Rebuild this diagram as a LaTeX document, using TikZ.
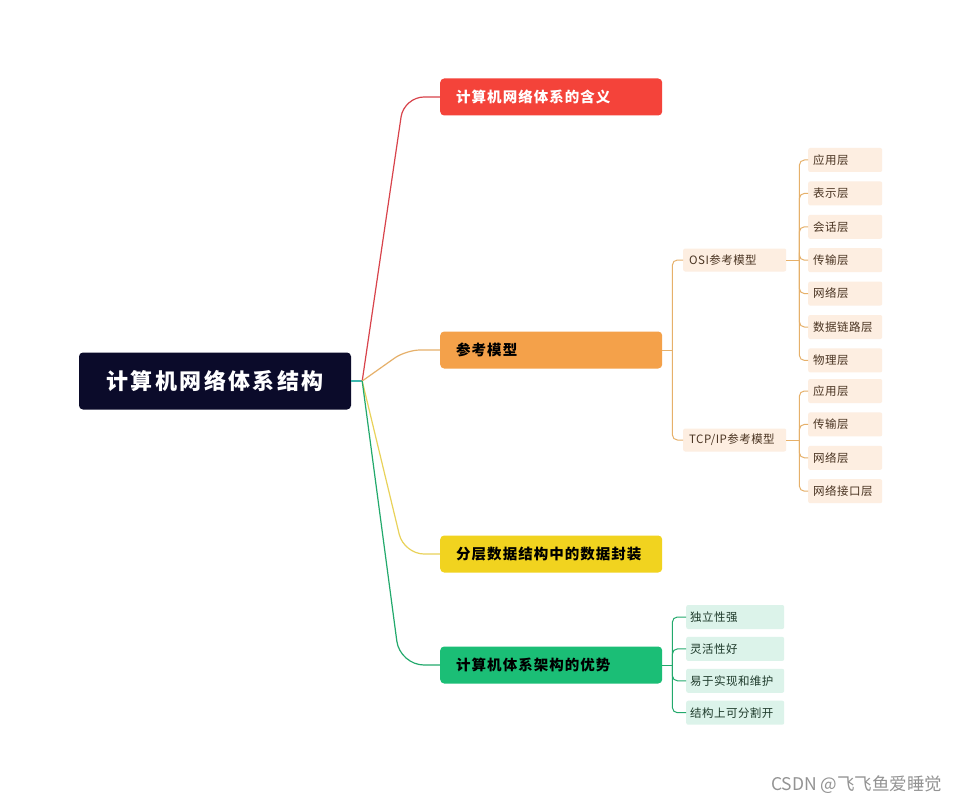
\documentclass[tikz,border=0pt]{standalone}
\usepackage{fontspec}
\setmainfont{Noto Sans CJK SC}
\usetikzlibrary{positioning}
\definecolor{rootnavy}{HTML}{0B0B2A}
\definecolor{brred}{HTML}{F4433A}
\definecolor{brorange}{HTML}{F4A14A}
\definecolor{bryellow}{HTML}{F1D31F}
\definecolor{brgreen}{HTML}{1BBE76}
\definecolor{peach}{HTML}{FDEEE1}
\definecolor{mint}{HTML}{DCF3EA}
\definecolor{leafbrown}{HTML}{4A3422}
\definecolor{leafgreen}{HTML}{1E3A2B}
\definecolor{tanline}{HTML}{E6B06A}
\definecolor{hubteal}{HTML}{3DB8AE}
\definecolor{redline}{HTML}{D8434B}
\definecolor{yelline}{HTML}{E9D25A}
\definecolor{grnline}{HTML}{22A96C}

\begin{document}
\begin{tikzpicture}[x=1pt,y=-1pt,
  every node/.style={font=\fontsize{11.5pt}{13pt}\selectfont\addfontfeature{LetterSpace=4}},
  rootbox/.style={rounded corners=4pt,fill=rootnavy,text=white,minimum width=272pt,minimum height=57pt,font=\bfseries\fontsize{22pt}{26pt}\selectfont\addfontfeature{LetterSpace=11}},
  br/.style={rounded corners=4pt,text width=190pt,inner xsep=16pt,minimum height=37pt,align=left,font=\bfseries\fontsize{14.5pt}{17pt}\selectfont\addfontfeature{LetterSpace=7},anchor=west},
  sub/.style={fill=peach,rounded corners=2pt,text width=91pt,inner xsep=6pt,minimum height=23pt,align=left,text=leafbrown,anchor=west},
  leaf/.style={fill=peach,rounded corners=2pt,text width=64pt,inner xsep=5pt,minimum height=24pt,align=left,text=leafbrown},
  gleaf/.style={fill=mint,rounded corners=2pt,text width=90pt,inner xsep=4pt,minimum height=24pt,align=left,text=leafgreen},
  cl/.style={line width=1.2pt,rounded corners=20pt},
  ol/.style={tanline,line width=1pt,rounded corners=5pt},
  gl/.style={grnline,line width=1pt,rounded corners=5pt}]

\fill[white] (0,0) rectangle (960,805);
\useasboundingbox (0,0) rectangle (960,805);

% main topic and its four branches
\node[rootbox] (root) at (215,381) {计算机网络体系结构};
\node[br,fill=brred,text=white] (mean) at (440,97) {计算机网络体系的含义};
\node[br,fill=brorange] (ref) at (440,350) {参考模型};
\node[br,fill=bryellow] (enc) at (440,554) {分层数据结构中的数据封装};
\node[br,fill=brgreen] (adv) at (440,665) {计算机体系架构的优势};

\coordinate (hub) at ([xshift=11pt]root.east);
\draw[hubteal,line width=1.2pt] (root.east) -- (hub);
\draw[cl,redline] (hub) -- ([xshift=-36pt]mean.west) -- (mean.west);
\draw[cl,tanline,rounded corners=14pt] (hub) -- ([xshift=-34pt]ref.west) -- (ref.west);
\draw[cl,yelline] (hub) -- ([xshift=-36pt]enc.west) -- (enc.west);
\draw[cl,grnline,rounded corners=24pt] (hub) -- ([xshift=-40pt]adv.west) -- (adv.west);

% reference models
\node[sub] (osi) at (683,260) {OSI参考模型};
\node[sub] (tcp) at (683,440) {TCP/IP参考模型};
\coordinate (rj) at ([xshift=10pt]ref.east);
\draw[ol] (ref.east) -- (rj);
\draw[ol] (rj) |- (osi.west); \draw[ol] (rj) |- (tcp.west);

\node[leaf,anchor=west] (o1) at (808,160) {应用层};
\node[leaf,below=9pt of o1] (o2) {表示层};
\node[leaf,below=9pt of o2] (o3) {会话层};
\node[leaf,below=9pt of o3] (o4) {传输层};
\node[leaf,below=9pt of o4] (o5) {网络层};
\node[leaf,below=9pt of o5] (o6) {数据链路层};
\node[leaf,below=9pt of o6] (o7) {物理层};
\coordinate (oj) at ([xshift=13pt]osi.east);
\draw[ol] (osi.east) -- (oj);
\foreach \n in {o1,o2,o3,o4,o5,o6,o7} \draw[ol] (oj) |- (\n.west);

\node[leaf,anchor=west] (t1) at (808,391) {应用层};
\node[leaf,below=9pt of t1] (t2) {传输层};
\node[leaf,below=9pt of t2] (t3) {网络层};
\node[leaf,below=9pt of t3] (t4) {网络接口层};
\coordinate (tj) at ([xshift=13pt]tcp.east);
\draw[ol] (tcp.east) -- (tj);
\foreach \n in {t1,t2,t3,t4} \draw[ol] (tj) |- (\n.west);

% advantages
\node[gleaf,anchor=west] (g1) at (686,617) {独立性强};
\node[gleaf,below=7.5pt of g1] (g2) {灵活性好};
\node[gleaf,below=7.5pt of g2] (g3) {易于实现和维护};
\node[gleaf,below=7.5pt of g3] (g4) {结构上可分割开};
\coordinate (gj) at ([xshift=10pt]adv.east);
\draw[gl] (adv.east) -- (gj);
\foreach \n in {g1,g2,g3,g4} \draw[gl] (gj) |- (\n.west);

\node[text=gray!85,anchor=east,font=\fontsize{17.5pt}{20pt}\selectfont] (mark) at (946,785) {CSDN @飞飞鱼爱睡觉};
\end{tikzpicture}
\end{document}
